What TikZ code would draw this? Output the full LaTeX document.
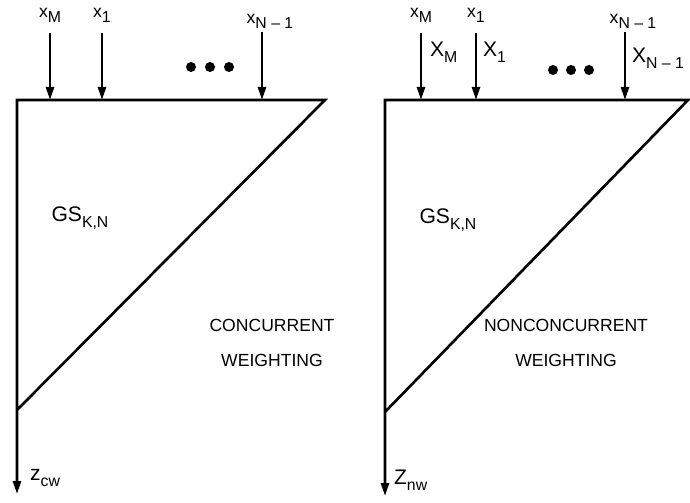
\documentclass[tikz,border=0pt]{standalone}
\usepackage{fontspec}
\setmainfont{Liberation Sans}
\usetikzlibrary{arrows.meta, positioning, calc}
\newcommand{\lowsub}[1]{\raisebox{-0.55ex}{\small #1}}
\tikzset{
  gs/line/.style   = {line width=1.5pt, draw=black, line join=miter},
  gs/arrow/.style  = {gs/line, -{Triangle[length=2.6mm, width=1.6mm]}},
  gs/input/.style  = {font=\normalsize, inner sep=1pt},
  gs/weight/.style = {font=\large, inner sep=1pt},
  gs/text/.style   = {font=\normalsize, align=center, inner sep=1pt},
  gs/dot/.style    = {circle, fill=black, inner sep=0pt, minimum size=2mm},
}

\begin{document}
\begin{tikzpicture}[x=0.02cm, y=-0.02cm]
  \useasboundingbox (0,0) rectangle (690,503);
  % concurrent weighting (left)
  \coordinate (lt) at (17,100);
  \coordinate (rt) at (325,100);
  \coordinate (lb) at (17,410);
  \coordinate (lz) at (17,494);
  \draw[gs/arrow] (lb) -- (rt) -- (lt) -- (lz);
  \node[gs/input] (lxm) at (50,15) {x\lowsub{M}};
  \node[gs/input] (lx1) at (102,15) {x\lowsub{1}};
  \node[gs/input] (lxn) at (270,21) {x\lowsub{N -- 1}};
  \coordinate (lxna) at (262,32);
  \draw[gs/arrow] ([yshift=-5pt]lxm.south) -- (lxm |- lt);
  \draw[gs/arrow] ([yshift=-5pt]lx1.south) -- (lx1 |- lt);
  \draw[gs/arrow] (lxna) -- (lxna |- lt);
  \node[gs/dot] (ld1) at (191,67) {};
  \node[gs/dot] (ld2) at (210,67) {};
  \node[gs/dot] (ld3) at (229,67) {};
  \node[gs/text, font=\large] (lgs) at (80,218) {GS\lowsub{K,N}};
  \node[gs/text] (lcw) at (272,343) {CONCURRENT\\[8pt]WEIGHTING};
  \node[gs/input, anchor=west, font=\large] (lzc) at (28,478) {z\lowsub{cw}};
  % nonconcurrent weighting (right)
  \coordinate (rlt) at (385,100);
  \coordinate (rrt) at (688,100);
  \coordinate (rlb) at (385,412);
  \coordinate (rlz) at (385,496);
  \draw[gs/arrow] (rlb) -- (rrt) -- (rlt) -- (rlz);
  \node[gs/input] (rxm) at (421,15) {x\lowsub{M}};
  \node[gs/input] (rx1) at (476,15) {x\lowsub{1}};
  \node[gs/input] (rxn) at (633,21) {x\lowsub{N -- 1}};
  \coordinate (rxna) at (625,32);
  \draw[gs/arrow] ([yshift=-5pt]rxm.south) -- (rxm |- rlt);
  \draw[gs/arrow] ([yshift=-5pt]rx1.south) -- (rx1 |- rlt);
  \draw[gs/arrow] (rxna) -- (rxna |- rlt);
  \node[gs/weight, anchor=west] (rwm) at (428,52) {X\lowsub{M}};
  \node[gs/weight, anchor=west] (rw1) at (481,52) {X\lowsub{1}};
  \node[gs/weight, anchor=west] (rwn) at (630,58) {X\lowsub{N -- 1}};
  \node[gs/dot] (rd1) at (553,70) {};
  \node[gs/dot] (rd2) at (571,70) {};
  \node[gs/dot] (rd3) at (589,70) {};
  \node[gs/text, font=\large] (rgs) at (448,220) {GS\lowsub{K,N}};
  \node[gs/text] (rnw) at (566,343) {NONCONCURRENT\\[8pt]WEIGHTING};
  \node[gs/input, anchor=west, font=\large] (rzn) at (392,480) {Z\lowsub{nw}};
\end{tikzpicture}
\end{document}
